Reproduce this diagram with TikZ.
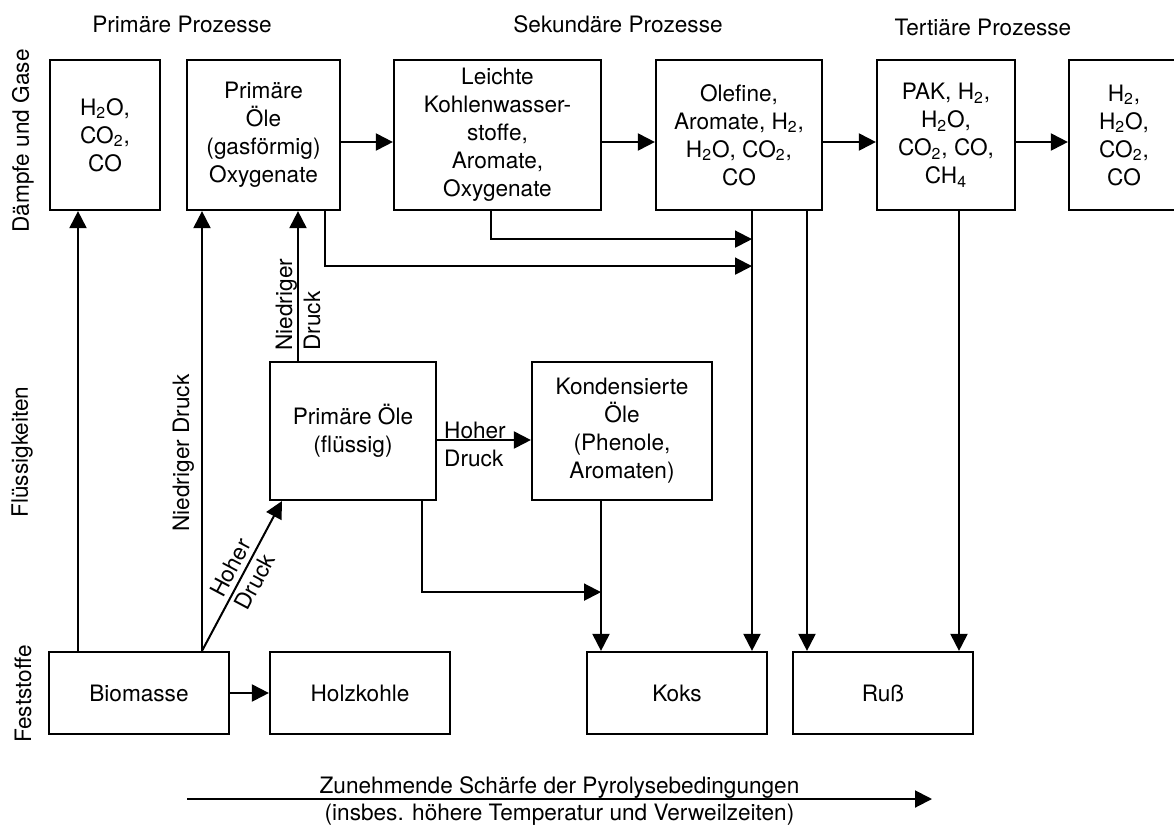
\documentclass[tikz,border=0pt]{standalone}
\usepackage{fontspec}
\setmainfont{TeX Gyre Heros}
\usetikzlibrary{arrows.meta}
\usetikzlibrary{positioning}

\tikzset{
  box/.style={draw, line width=1.1pt, align=center, inner sep=2pt, font=\fontsize{11.3}{14}\selectfont},
  txt/.style={inner sep=0pt, font=\fontsize{11.3}{14}\selectfont},
  pfeil/.style={line width=1pt, -{Triangle[length=8.5pt,width=8.5pt]}},
  linie/.style={line width=1pt}
}

\begin{document}
\begin{tikzpicture}[x=0.5pt, y=-0.5pt]

\useasboundingbox (0,0) rectangle (1174,826);
\clip (0,0) rectangle (1174,826);

% headers
\node[txt, anchor=base] (hprim) at (182,32) {Primäre Prozesse};
\node[txt, anchor=base] (hsek) at (618,32) {Sekundäre Prozesse};
\node[txt, anchor=base] (htert) at (983,35) {Tertiäre Prozesse};

% phases
\node[txt, rotate=90] (ldampf) at (23,141) {Dämpfe und Gase};
\node[txt, rotate=90] (lfluess) at (22,452) {Flüssigkeiten};
\node[txt, rotate=90] (lfest) at (23,694) {Feststoffe};

% vapours and gases
\node[box, minimum width=55pt, minimum height=75pt] (gas1) at (105,135) {H\textsubscript{2}O,\\CO\textsubscript{2},\\CO};
\node[box, minimum width=76.5pt, minimum height=75pt] (gas2) at (263.5,135) {Primäre\\Öle\\(gasförmig)\\Oxygenate};
\node[box, minimum width=103.5pt, minimum height=75pt] (leicht) at (497.5,135) {Leichte\\Kohlenwasser-\\stoffe,\\Aromate,\\Oxygenate};
\node[box, minimum width=83pt, minimum height=75pt] (olefine) at (739,135) {Olefine,\\Aromate, H\textsubscript{2},\\H\textsubscript{2}O, CO\textsubscript{2},\\CO};
\node[box, minimum width=69pt, minimum height=75pt] (pak) at (946,135) {PAK, H\textsubscript{2},\\H\textsubscript{2}O,\\CO\textsubscript{2}, CO,\\CH\textsubscript{4}};
\node[box, minimum width=55pt, minimum height=75pt] (endgas) at (1124,135) {H\textsubscript{2},\\H\textsubscript{2}O,\\CO\textsubscript{2},\\CO};

% liquids
\node[box, minimum width=83pt, minimum height=69pt] (oelfl) at (353,431) {Primäre Öle\\(flüssig)};
\node[box, minimum width=90pt, minimum height=69pt] (kond) at (622,431) {Kondensierte\\Öle\\(Phenole,\\Aromaten)};

% solids
\node[box, minimum width=90pt, minimum height=41pt] (biomasse) at (139,693) {Biomasse};
\node[box, minimum width=90pt, minimum height=41pt] (holzkohle) at (360,693) {Holzkohle};
\node[box, minimum width=90pt, minimum height=41pt] (koks) at (677,693) {Koks};
\node[box, minimum width=90pt, minimum height=41pt] (russ) at (883,693) {Ruß};

% from biomass
\draw[pfeil] ([xshift=-30.5pt]biomasse.north) -- ([xshift=-30.5pt]biomasse.north |- gas1.south);
\draw[pfeil] ([xshift=31.5pt]biomasse.north) -- ([xshift=31.5pt]biomasse.north |- gas2.south) node[txt, pos=0.45, sloped, above=3.5pt] {Niedriger Druck};
\draw[pfeil] ([xshift=31.5pt]biomasse.north) -- ([xshift=6.5pt]oelfl.south west) node[txt, midway, sloped, align=left, xshift=1pt] {Hoher\\Druck};
\draw[pfeil] (biomasse) -- (holzkohle);

% primary oils
\draw[pfeil] ([xshift=-27.5pt]oelfl.north) -- ([xshift=-27.5pt]oelfl.north |- gas2.south) node[txt, pos=0.375, sloped, align=left] {Niedriger\\Druck};
\draw[pfeil] ([yshift=-4.5pt]oelfl.east) -- ([yshift=-4.5pt]oelfl.east -| kond.west) node[txt, midway, xshift=-4.5pt, yshift=-2pt, align=left] {Hoher\\Druck};
\draw[pfeil] ([xshift=34.5pt]oelfl.south) |- ([xshift=-10.5pt,yshift=-45.5pt]kond.south);
\draw[pfeil] ([xshift=-10.5pt]kond.south) -- ([xshift=-10.5pt]kond.south |- koks.north);

% gas phase chain
\draw[pfeil] ([yshift=-3.5pt]gas2.east) -- ([yshift=-3.5pt]gas2.east -| leicht.west);
\draw[pfeil] ([yshift=-3.5pt]leicht.east) -- ([yshift=-3.5pt]leicht.east -| olefine.west);
\draw[pfeil] ([yshift=-3.5pt]olefine.east) -- ([yshift=-3.5pt]olefine.east -| pak.west);
\draw[pfeil] ([yshift=-3.5pt]pak.east) -- ([yshift=-3.5pt]pak.east -| endgas.west);

% down to coke and soot
\draw[pfeil] ([xshift=-3.25pt]leicht.south) |- ([xshift=6.5pt,yshift=-14pt]olefine.south);
\draw[pfeil] ([xshift=30.75pt]gas2.south) |- ([xshift=6.5pt,yshift=-27.5pt]olefine.south);
\draw[pfeil] ([xshift=6.5pt]olefine.south) -- ([xshift=6.5pt]olefine.south |- koks.north);
\draw[pfeil] ([xshift=34pt]olefine.south) -- ([xshift=34pt]olefine.south |- russ.north);
\draw[pfeil] ([xshift=6.5pt]pak.south) -- ([xshift=6.5pt]pak.south |- russ.north);

% severity
\coordinate (pstart) at (187,799);
\coordinate (pend) at (932,799);
\draw[pfeil] (pstart) -- (pend) node[txt, midway, anchor=base, yshift=3pt] {Zunehmende Schärfe der Pyrolysebedingungen} node[txt, midway, anchor=base, yshift=-10.5pt] {(insbes. höhere Temperatur und Verweilzeiten)};

\end{tikzpicture}
\end{document}
